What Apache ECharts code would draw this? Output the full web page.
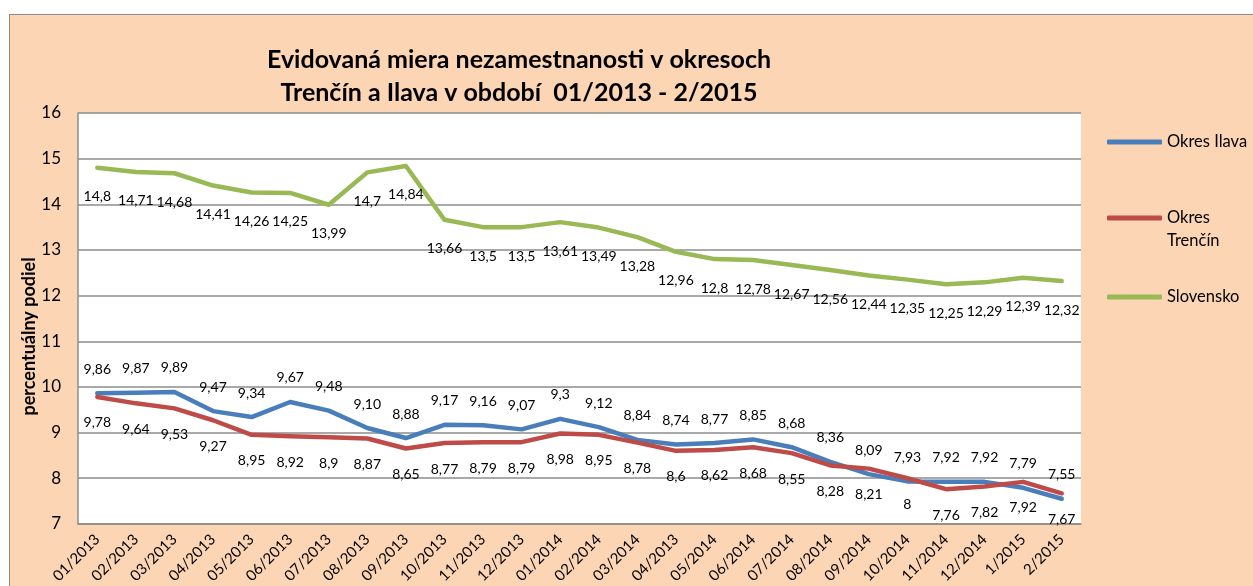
<!DOCTYPE html>
<html>
<head>
<meta charset="utf-8">
<script src="https://cdn.jsdelivr.net/npm/echarts@6/dist/echarts.min.js"></script>
<style>
  html, body { margin: 0; padding: 0; background: #ffffff; }
  #frame { position: absolute; left: 9px; top: 14px; width: 1300px; height: 700px;
           background: #FCD5B5; border: 1.5px solid #8C8C8C; box-sizing: border-box; }
  #chart { position: absolute; left: 0; top: 0; width: 1253px; height: 586px; }
</style>
</head>
<body>
<div id="frame"></div>
<div id="chart"></div>
<script>
const categories = ['01/2013','02/2013','03/2013','04/2013','05/2013','06/2013','07/2013','08/2013','09/2013','10/2013','11/2013','12/2013',
  '01/2014','02/2014','03/2014','04/2013','05/2014','06/2014','07/2014','08/2014','09/2014','10/2014','11/2014','12/2014','1/2015','2/2015'];
const ilava = [9.86, 9.87, 9.89, 9.47, 9.34, 9.67, 9.48, 9.10, 8.88, 9.17, 9.16, 9.07, 9.3, 9.12, 8.84, 8.74, 8.77, 8.85, 8.68, 8.36, 8.09, 7.93, 7.92, 7.92, 7.79, 7.55];
const trencin = [9.78, 9.64, 9.53, 9.27, 8.95, 8.92, 8.9, 8.87, 8.65, 8.77, 8.79, 8.79, 8.98, 8.95, 8.78, 8.6, 8.62, 8.68, 8.55, 8.28, 8.21, 8, 7.76, 7.82, 7.92, 7.67];
const slovensko = [14.8, 14.71, 14.68, 14.41, 14.26, 14.25, 13.99, 14.7, 14.84, 13.66, 13.5, 13.5, 13.61, 13.49, 13.28, 12.96, 12.8, 12.78, 12.67, 12.56, 12.44, 12.35, 12.25, 12.29, 12.39, 12.32];
const yTicks = { min: 7, max: 16, interval: 1 };
const labelOverrides = { 'Okres Ilava': { 7: '9,10' } };

const FONT = 'Lato, "Open Sans", sans-serif';
const fmt = p => {
  const o = labelOverrides[p.seriesName];
  if (o && o[p.dataIndex] !== undefined) return o[p.dataIndex];
  return String(p.value).replace('.', ',');
};

function lineSeries(name, data, color, pos, dist) {
  return {
    name, type: 'line', data,
    symbol: 'circle', symbolSize: 0, showSymbol: true,
    itemStyle: { color },
    lineStyle: { color, width: 4.5, cap: 'round', join: 'round' },
    label: { show: true, position: pos, distance: dist, color: '#000', fontFamily: FONT, fontSize: 14, formatter: fmt },
    emphasis: { disabled: true },
    animation: false
  };
}

const chart = echarts.init(document.getElementById('chart'), null, { renderer: 'canvas' });
chart.setOption({
  backgroundColor: 'transparent',
  animation: false,
  title: {
    text: 'Evidovaná miera nezamestnanosti v okresoch\nTrenčín a Ilava v období  01/2013 - 2/2015',
    left: 514, top: 38, textAlign: 'center',
    textStyle: { fontFamily: FONT, fontSize: 25, fontWeight: 'bold', color: '#000', lineHeight: 33 }
  },
  legend: [
    { data: ['Okres Ilava'], orient: 'vertical', left: 1107, top: 132, padding: 0,
      itemWidth: 55, itemHeight: 5, icon: 'roundRect', textStyle: { fontFamily: FONT, fontSize: 16.5, color: '#000', lineHeight: 20 } },
    { data: ['Okres Trenčín'], orient: 'vertical', left: 1107, top: 183.5, padding: 0,
      itemWidth: 55, itemHeight: 5, icon: 'roundRect', formatter: () => '\nOkres\nTrenčín',
      textStyle: { fontFamily: FONT, fontSize: 16.5, color: '#000', lineHeight: 23 } },
    { data: ['Slovensko'], orient: 'vertical', left: 1107, top: 287, padding: 0,
      itemWidth: 55, itemHeight: 5, icon: 'roundRect', textStyle: { fontFamily: FONT, fontSize: 16.5, color: '#000', lineHeight: 20 } }
  ],
  grid: { left: 78, top: 113, right: 172, bottom: 60, show: true, backgroundColor: '#ffffff', borderWidth: 0 },
  xAxis: {
    type: 'category', data: categories, boundaryGap: true,
    axisLine: { lineStyle: { color: '#8C8C8C', width: 1.5 } },
    axisTick: { show: false },
    axisLabel: { rotate: 45, interval: 0, margin: 13, color: '#000', fontFamily: FONT, fontSize: 15 }
  },
  yAxis: {
    type: 'value', min: yTicks.min, max: yTicks.max, interval: yTicks.interval,
    name: 'percentuálny podiel', nameLocation: 'middle', nameGap: 40, nameMoveOverlap: false,
    nameTextStyle: { fontFamily: FONT, fontSize: 18, fontWeight: 'bold', color: '#000', padding: [0, 36, 0, 0] },
    axisLine: { show: true, lineStyle: { color: '#8C8C8C', width: 1.5 } },
    axisTick: { show: false },
    splitLine: { lineStyle: { color: '#8C8C8C', width: 1.5 } },
    axisLabel: { margin: 17, color: '#000', fontFamily: FONT, fontSize: 17 }
  },
  series: [
    lineSeries('Okres Ilava', ilava, '#4A7EBB', 'top', 17),
    lineSeries('Okres Trenčín', trencin, '#BE4B48', 'bottom', 19),
    lineSeries('Slovensko', slovensko, '#98B954', 'bottom', 22)
  ]
});
</script>
</body>
</html>
